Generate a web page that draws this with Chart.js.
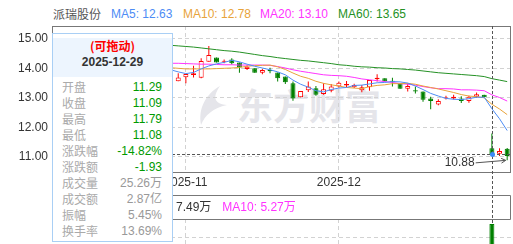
<!DOCTYPE html>
<html>
<head>
<meta charset="utf-8">
<script src="https://cdn.jsdelivr.net/npm/chart.js@4.4.1/dist/chart.umd.min.js"></script>
<style>
  html, body { margin: 0; padding: 0; }
  body {
    width: 513px; height: 244px; overflow: hidden; position: relative; background: #fff;
    font-family: "Liberation Sans", Arial, "Noto Sans CJK SC", sans-serif; font-size: 12px; color: #333;
  }
  .abs { position: absolute; white-space: nowrap; }
  .ttl { top: 6px; line-height: 16px; }
  #watermark { left: 237px; top: 79px; font: bold 36px "Noto Sans CJK SC", sans-serif; color: #e5e5ea; line-height: 50px; }
  #logo { left: 196px; top: 86px; }
  #mainWrap { left: 0; top: 0; }
  #volWrap { left: 0; top: 195px; }
  #volLegend { left: 176px; top: 199px; line-height: 16px; }
  #tip {
    left: 52px; top: 33px; width: 119px; height: 207px; border: 1px solid #a9cff5;
    background: #fff; z-index: 5; font-family: "Liberation Sans", Arial, "Noto Sans CJK SC", sans-serif;
  }
  #tipHead { height: 39px; background: #edf5fe; text-align: center; font-weight: bold; }
  #tipHead div { line-height: 16px; }
  .row { height: 16px; line-height: 16px; display: flex; justify-content: space-between; padding: 0 10px 0 9px; }
  .row .k { color: #aaa; font-family: "Noto Sans CJK SC", sans-serif; }
</style>
</head>
<body>
<div class="abs ttl" style="left:53px;color:#555;font-family:'Noto Sans CJK SC',sans-serif">派瑞股份</div>
<div class="abs ttl" style="left:111px;color:#4d8cf5">MA5: 12.63</div>
<div class="abs ttl" style="left:183px;color:#e8a33a">MA10: 12.78</div>
<div class="abs ttl" style="left:260px;color:#ff33ff">MA20: 13.10</div>
<div class="abs ttl" style="left:338px;color:#259125">MA60: 13.65</div>

<svg id="logo" class="abs" width="34" height="40" viewBox="0 0 34 40">
  <path d="M24 0 C 10 8, 2 22, 5 39 C 9 29, 17 22, 31 19 C 20 18, 15 13, 24 0 Z" fill="#e5e5ea"/>
</svg>
<div id="watermark" class="abs">东方财富</div>

<div id="mainWrap" class="abs"><canvas id="kline" width="513" height="195"></canvas></div>
<div id="volWrap" class="abs"><canvas id="vol" width="513" height="100"></canvas></div>
<div id="volLegend" class="abs"><span>7.49万</span><span style="color:#ff33ff;margin-left:11px">MA10: 5.27万</span></div>

<div id="tip" class="abs">
  <div id="tipHead">
    <div style="color:#ff0000;margin-top:4px;font-family:'Noto Sans CJK SC',sans-serif">(可拖动)</div>
    <div id="tipDate" style="color:#333;margin-top:0px"></div>
  </div>
  <div id="tipRows" style="margin-top:2px"></div>
</div>

<script>
// === DATA ===
const dates = [
  '2025-10-09','2025-10-10',
  '2025-10-13','2025-10-14','2025-10-15','2025-10-16','2025-10-17',
  '2025-10-20','2025-10-21','2025-10-22','2025-10-23','2025-10-24',
  '2025-10-27','2025-10-28','2025-10-29','2025-10-30','2025-10-31',
  '2025-11-03','2025-11-04','2025-11-05','2025-11-06','2025-11-07',
  '2025-11-10','2025-11-11','2025-11-12','2025-11-13','2025-11-14',
  '2025-11-17','2025-11-18','2025-11-19','2025-11-20','2025-11-21',
  '2025-11-24','2025-11-25','2025-11-26','2025-11-27','2025-11-28',
  '2025-12-01','2025-12-02','2025-12-03','2025-12-04','2025-12-05',
  '2025-12-08','2025-12-09','2025-12-10','2025-12-11','2025-12-12',
  '2025-12-15','2025-12-16','2025-12-17','2025-12-18','2025-12-19',
  '2025-12-22','2025-12-23','2025-12-24','2025-12-25','2025-12-26',
  '2025-12-29','2025-12-30','2025-12-31'
];

// first 16 sessions sit behind the fixed info box, not readable
const H16 = [null,null,null,null,null,null,null,null,null,null,null,null,null,null,null,null];

const openP = H16.concat([
  13.56, 13.70, 13.77, 13.68, 14.22, 14.37, 14.22, 14.30, 14.20, 13.98,
  14.00, 13.85, 13.94, 13.86, 13.72, 13.49, 13.02, 13.26, 13.32, 13.13,
  13.24, 13.38, 13.42, 13.36, 13.26, 13.36, 13.63, 13.66, 13.58, 13.49,
  13.31, 13.26, 13.21, 12.98, 12.77, 12.98, 12.98, 12.98, 12.89, 13.04,
  13.10, 11.29, 11.10, 11.27]);
const highP = H16.concat([
  13.83, 13.81, 14.09, 14.34, 14.76, 14.37, 14.30, 14.34, 14.20, 14.10,
  14.00, 13.98, 14.02, 13.86, 13.72, 13.55, 13.23, 13.55, 13.40, 13.49,
  13.47, 13.55, 13.57, 13.48, 13.43, 13.60, 13.80, 13.66, 13.68, 13.49,
  13.49, 13.38, 13.21, 13.04, 12.95, 13.07, 13.10, 13.05, 13.07, 13.18,
  13.10, 11.79, 11.29, 11.30]);
const lowP = H16.concat([
  13.56, 13.49, 13.69, 13.66, 14.22, 14.20, 14.17, 14.13, 13.85, 13.94,
  13.85, 13.80, 13.83, 13.55, 13.47, 12.90, 13.02, 13.20, 13.07, 13.10,
  13.19, 13.34, 13.36, 13.33, 13.19, 13.24, 13.55, 13.55, 13.38, 13.31,
  13.21, 13.15, 12.87, 12.61, 12.75, 12.94, 12.94, 12.82, 12.83, 13.00,
  13.02, 11.08, 11.03, 10.88]);
const closeP = H16.concat([
  13.69, 13.81, 13.83, 14.25, 14.45, 14.20, 14.26, 14.17, 14.03, 14.05,
  13.85, 13.94, 13.90, 13.66, 13.53, 12.98, 13.23, 13.38, 13.10, 13.29,
  13.38, 13.51, 13.47, 13.43, 13.36, 13.60, 13.68, 13.55, 13.54, 13.31,
  13.40, 13.21, 12.93, 12.89, 12.89, 13.00, 13.04, 12.89, 13.04, 13.12,
  13.02, 11.09, 11.20, 11.03]);
// volume, 万股
const volume = H16.concat([
  3.1, 3.4, 3.6, 7.2, 8.1, 4.6, 3.5, 3.3, 4.1, 3.0,
  3.2, 2.6, 2.4, 3.3, 3.4, 6.2, 4.0, 3.3, 3.1, 2.9,
  2.8, 3.2, 2.6, 2.3, 2.4, 3.5, 3.8, 2.7, 2.5, 2.8,
  2.4, 2.3, 3.6, 3.4, 2.8, 2.6, 2.85, 2.9, 3.2, 3.3,
  2.79, 25.26, 11.8, 7.2]);

const H15 = H16.slice(1);
const ma5 = H15.concat([
  13.95, 13.88, 13.82, 13.86, 13.98, 14.08, 14.15, 14.20, 14.27, 14.22,
  14.14, 14.07, 14.01, 13.95, 13.88, 13.78, 13.60, 13.46, 13.36, 13.24,
  13.20, 13.28, 13.33, 13.35, 13.42, 13.43, 13.47, 13.51, 13.52, 13.55,
  13.54, 13.50, 13.40, 13.28, 13.15, 13.06, 12.98, 12.95, 12.94, 12.97,
  13.02, 13.02, 12.63, 12.29, 11.89]);
const ma10 = H15.concat([
  14.02, 14.00, 13.98, 13.98, 13.98, 13.98, 13.99, 14.00, 14.01, 14.03,
  14.07, 14.09, 14.10, 14.11, 14.05, 13.96, 13.84, 13.73, 13.66, 13.56,
  13.49, 13.44, 13.40, 13.35, 13.33, 13.31, 13.38, 13.42, 13.44, 13.48,
  13.48, 13.49, 13.46, 13.40, 13.35, 13.30, 13.24, 13.18, 13.11, 13.06,
  13.04, 13.00, 12.78, 12.62, 12.43]);
const ma20 = H15.concat([
  14.17, 14.17, 14.16, 14.15, 14.14, 14.14, 14.13, 14.12, 14.12, 14.11,
  14.11, 14.11, 14.11, 14.10, 14.06, 14.01, 13.95, 13.90, 13.86, 13.82,
  13.78, 13.76, 13.75, 13.73, 13.69, 13.64, 13.61, 13.58, 13.55, 13.52,
  13.48, 13.46, 13.43, 13.38, 13.34, 13.31, 13.31, 13.30, 13.27, 13.27,
  13.26, 13.24, 13.10, 13.01, 12.89]);
const ma60 = H15.concat([
  14.78, 14.76, 14.74, 14.72, 14.69, 14.66, 14.63, 14.60, 14.58, 14.55,
  14.51, 14.47, 14.43, 14.40, 14.36, 14.33, 14.30, 14.27, 14.25, 14.22,
  14.19, 14.16, 14.12, 14.10, 14.07, 14.05, 14.04, 14.02, 14.01, 13.99,
  13.98, 13.96, 13.94, 13.91, 13.88, 13.85, 13.83, 13.81, 13.79, 13.77,
  13.75, 13.72, 13.65, 13.60, 13.55]);

const yTicks = [11, 12, 13, 14, 15];

// === STYLE ===
const FONT = '"Liberation Sans", Arial, sans-serif';
const UP = '#ff0000', DOWN = '#008000';
const C_MA5 = '#4d8cf5', C_MA10 = '#e8a33a', C_MA20 = '#ff33ff', C_MA60 = '#259125';
const GRID = '#d2d2d2', FRAME = '#777';

const crossIdx = dates.indexOf('2025-12-29');
const isUp = closeP.map((c, i) => c != null && c >= openP[i]);
const bodyFill = isUp.map(u => u ? '#ffffff' : DOWN);
const lineColor = isUp.map(u => u ? UP : DOWN);

// only keep the first session of each month as x tick
function monthTicks(scale) {
    scale.ticks = scale.ticks.filter(t => t.value > 0 &&
        dates[t.value].slice(0, 7) !== dates[t.value - 1].slice(0, 7));
}

const maLine = (data, color) => ({
    type: 'line', data, borderColor: color, borderWidth: 1,
    pointRadius: 0, tension: 0, spanGaps: false
});

// === PLUGINS ===
const klineDecor = {
    id: 'klineDecor',
    afterDraw(chart) {
        const { ctx, chartArea: a, scales: { x, y } } = chart;
        ctx.save();
        ctx.lineWidth = 1;
        // frame
        ctx.strokeStyle = FRAME;
        ctx.strokeRect(Math.round(a.left) + 0.5, Math.round(a.top) + 0.5,
            Math.round(a.right - a.left) - 1, Math.round(a.bottom - a.top));

        // crosshair on the selected day
        const cx = Math.round(x.getPixelForValue(crossIdx)) + 0.5;
        const cy = Math.round(y.getPixelForValue(closeP[crossIdx])) + 0.5;
        ctx.strokeStyle = '#555';
        ctx.setLineDash([3, 2]);
        ctx.beginPath();
        ctx.moveTo(cx, a.top); ctx.lineTo(cx, chart.height);
        ctx.moveTo(a.left, cy); ctx.lineTo(a.right, cy);
        ctx.stroke();
        ctx.setLineDash([]);
        ctx.fillStyle = '#3d8af7';
        ctx.beginPath(); ctx.arc(cx, cy, 2.5, 0, Math.PI * 2); ctx.fill();

        // lowest low marker
        const lows = lowP.filter(v => v != null);
        const li = lowP.indexOf(Math.min(...lows));
        const tx = x.getPixelForValue(li) - 1.5, ty = y.getPixelForValue(lowP[li]);
        const sx = tx - 30, sy = ty + 2.5;
        ctx.strokeStyle = '#555';
        ctx.beginPath();
        ctx.moveTo(sx, sy); ctx.lineTo(tx, ty);
        const ang = Math.atan2(ty - sy, tx - sx);
        ctx.moveTo(tx, ty); ctx.lineTo(tx - 5 * Math.cos(ang - 0.5), ty - 5 * Math.sin(ang - 0.5));
        ctx.moveTo(tx, ty); ctx.lineTo(tx - 5 * Math.cos(ang + 0.5), ty - 5 * Math.sin(ang + 0.5));
        ctx.stroke();
        ctx.fillStyle = '#333';
        ctx.font = '12px ' + FONT;
        ctx.textAlign = 'right';
        ctx.textBaseline = 'middle';
        ctx.fillText(lowP[li].toFixed(2), sx - 1, sy);
        ctx.restore();
    }
};

const volDecor = {
    id: 'volDecor',
    beforeDatasetsDraw(chart) {
        const { ctx, scales: { x } } = chart;
        const cx = Math.round(x.getPixelForValue(crossIdx)) + 0.5;
        ctx.save();
        ctx.strokeStyle = '#555'; ctx.lineWidth = 1; ctx.setLineDash([3, 2]);
        ctx.beginPath(); ctx.moveTo(cx, 0); ctx.lineTo(cx, chart.height); ctx.stroke();
        ctx.restore();
    },
    afterDraw(chart) {
        const { ctx, chartArea: a } = chart;
        const l = Math.round(a.left) + 0.5, r = Math.round(a.right) - 0.5, t = Math.round(a.top) + 0.5;
        ctx.save();
        ctx.strokeStyle = FRAME; ctx.lineWidth = 1;
        ctx.beginPath();
        ctx.moveTo(l, 0.5); ctx.lineTo(r, 0.5); ctx.lineTo(r, t); ctx.lineTo(l, t);
        ctx.stroke();
        ctx.restore();
    }
};

// === K-LINE CHART ===
new Chart(document.getElementById('kline'), {
    type: 'bar',
    data: {
        labels: dates,
        datasets: [
            maLine(ma5, C_MA5),
            maLine(ma10, C_MA10),
            maLine(ma20, C_MA20),
            maLine(ma60, C_MA60),
            {
                type: 'bar', grouped: false,
                data: openP.map((o, i) => o == null ? null : [o, closeP[i]]),
                backgroundColor: bodyFill, borderColor: lineColor,
                borderWidth: 1, borderSkipped: false, barThickness: 5,
                minBarLength: 1, inflateAmount: 0
            },
            {
                type: 'bar', grouped: false,
                data: lowP.map((l, i) => l == null ? null : [l, highP[i]]),
                backgroundColor: lineColor, borderWidth: 0, barThickness: 1, inflateAmount: 0
            }
        ]
    },
    options: {
        responsive: false, animation: false,
        layout: { padding: { top: 26, right: 2, left: 0, bottom: 0 } },
        plugins: { legend: { display: false }, tooltip: { enabled: false } },
        scales: {
            x: {
                offset: true,
                grid: { offset: false, color: GRID, drawTicks: false },
                border: { display: false, dash: [4, 3] },
                afterBuildTicks: monthTicks,
                afterFit: s => { s.height = 23; },
                ticks: {
                    autoSkip: false, maxRotation: 0, padding: 3, color: '#333',
                    font: { size: 12, family: FONT },
                    callback: v => dates[v].slice(0, 7)
                }
            },
            y: {
                min: 10.485, max: 15.434,
                grid: { color: GRID, drawTicks: false },
                border: { display: false, dash: [4, 3] },
                afterBuildTicks: s => { s.ticks = yTicks.map(v => ({ value: v })); },
                afterFit: s => { s.width = 52; },
                ticks: {
                    padding: 4, color: '#333', font: { size: 12, family: FONT },
                    callback: v => v.toFixed(2)
                }
            }
        }
    },
    plugins: [klineDecor]
});

// === VOLUME CHART ===
new Chart(document.getElementById('vol'), {
    type: 'bar',
    data: {
        labels: dates,
        datasets: [{
            data: volume,
            backgroundColor: bodyFill, borderColor: lineColor,
            borderWidth: 1, borderSkipped: false, barThickness: 5, inflateAmount: 0
        }]
    },
    options: {
        responsive: false, animation: false,
        layout: { padding: { top: 24, right: 2, left: 0, bottom: 5 } },
        plugins: { legend: { display: false }, tooltip: { enabled: false } },
        scales: {
            x: {
                offset: true,
                grid: { offset: false, color: GRID, drawTicks: false },
                border: { display: false, dash: [4, 3] },
                afterBuildTicks: monthTicks,
                afterFit: s => { s.height = 0; },
                ticks: { display: false, autoSkip: false }
            },
            y: {
                min: 0, max: 27.2,
                grid: { color: GRID, drawTicks: false },
                border: { display: false, dash: [4, 3] },
                afterFit: s => { s.width = 52; },
                ticks: { display: false, stepSize: 10, includeBounds: false }
            }
        }
    },
    plugins: [volDecor]
});

// === INFO BOX ===
(function fillTip() {
    const i = crossIdx, prev = closeP[i - 1];
    const chg = closeP[i] - prev;
    const GREEN = '#009a00', GRAY = '#999';
    const rows = [
        ['开盘', openP[i].toFixed(2), GREEN],
        ['收盘', closeP[i].toFixed(2), GREEN],
        ['最高', highP[i].toFixed(2), GREEN],
        ['最低', lowP[i].toFixed(2), GREEN],
        ['涨跌幅', (chg / prev * 100).toFixed(2) + '%', GREEN],
        ['涨跌额', chg.toFixed(2), GREEN],
        ['成交量', volume[i].toFixed(2) + '万', GRAY],
        ['成交额', '2.87亿', GRAY],
        ['振幅', ((highP[i] - lowP[i]) / prev * 100).toFixed(2) + '%', GRAY],
        ['换手率', '13.69%', GRAY]
    ];
    document.getElementById('tipDate').textContent = dates[i];
    document.getElementById('tipRows').innerHTML = rows.map(r =>
        `<div class="row"><span class="k">${r[0]}</span><span style="color:${r[2]}">${r[1]}</span></div>`
    ).join('');
})();
</script>
</body>
</html>
